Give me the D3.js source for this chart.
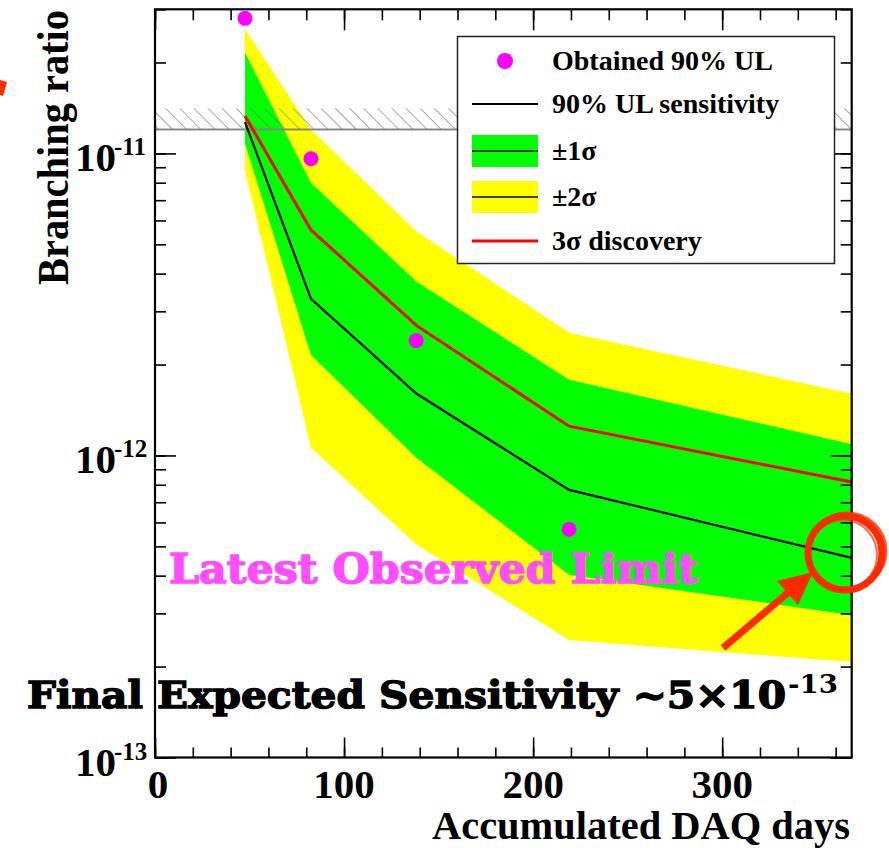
<!DOCTYPE html>
<html>
<head>
<meta charset="utf-8">
<script src="https://cdn.jsdelivr.net/npm/d3@7"></script>
<style>
  body { margin: 0; background: #fff; }
  svg { display: block; }
</style>
</head>
<body>
<div id="vis"></div>
<script>
// accumulated DAQ days where the bands are sampled
var days = [47.6, 82.5, 138.4, 219, 368.5];
var ulSensitivity = [1.27e-11, 3.30e-12, 1.60e-12, 7.69e-13, 4.58e-13];
var discovery3s = [1.33e-11, 5.58e-12, 2.69e-12, 1.25e-12, 8.17e-13];
var sigma1Hi = [2.16e-11, 7.98e-12, 3.76e-12, 1.78e-12, 1.09e-12];
var sigma1Lo = [1.08e-11, 2.15e-12, 9.8e-13, 4.03e-13, 2.96e-13];
var sigma2Hi = [2.58e-11, 1.2e-11, 5.5e-12, 2.55e-12, 1.6e-12];
var sigma2Lo = [8.8e-12, 1.06e-12, 5.06e-13, 2.45e-13, 2.07e-13];
// obtained limits
var obsDays = [47.6, 82.5, 138.1, 219];
var obsUL = [2.8e-11, 9.6e-12, 2.4e-12, 5.7e-13];
// previous limit (hatched)
var oldLimit = [1.2e-11, 1.41e-11];
var xTicks = [0, 100, 200, 300];
var yDecades = [-11, -12, -13];
var legendLabels = ["Obtained 90% UL", "90% UL sensitivity", "\u00b11\u03c3", "\u00b12\u03c3", "3\u03c3 discovery"];

var W = 889, H = 848;
var padL = 155, padR = 851.7, padT = 9.3, padB = 757.5;

var x = d3.scaleLinear().domain([0, 368.5]).range([padL, padR]);
var y = d3.scaleLog().domain([1e-13, 3e-11]).range([padB, padT]);

var svg = d3.select("#vis").append("svg")
  .attr("width", W).attr("height", H);

var defs = svg.append("defs");
var pat = defs.append("pattern")
  .attr("id", "hatch")
  .attr("patternUnits", "userSpaceOnUse")
  .attr("width", 10).attr("height", 10)
  .attr("patternTransform", "rotate(-45)");
pat.append("line")
  .attr("x1", 0).attr("y1", 0).attr("x2", 0).attr("y2", 10)
  .attr("stroke", "#7a7a7a").attr("stroke-width", 1.3);

defs.append("clipPath").attr("id", "plotclip")
  .append("rect").attr("x", padL).attr("y", padT)
  .attr("width", padR - padL).attr("height", padB - padT);

var plot = svg.append("g").attr("clip-path", "url(#plotclip)");

function band(lo, hi) {
  return d3.area()
    .x(function(d, i) { return x(days[i]); })
    .y0(function(d, i) { return y(lo[i]); })
    .y1(function(d, i) { return y(hi[i]); })(days);
}
var line = function(vals) {
  return d3.line()
    .x(function(d, i) { return x(days[i]); })
    .y(function(d) { return y(d); })(vals);
};

plot.append("path").attr("d", band(sigma2Lo, sigma2Hi)).attr("fill", "#ffff00");
plot.append("path").attr("d", band(sigma1Lo, sigma1Hi)).attr("fill", "#00ff00");

// hatched previous limit
plot.append("rect")
  .attr("x", padL).attr("width", padR - padL)
  .attr("y", y(oldLimit[1])).attr("height", y(oldLimit[0]) - y(oldLimit[1]))
  .attr("fill", "url(#hatch)");
plot.append("line")
  .attr("x1", padL).attr("x2", padR)
  .attr("y1", y(oldLimit[0])).attr("y2", y(oldLimit[0]))
  .attr("stroke", "#888").attr("stroke-width", 2);

plot.append("path").attr("d", line(ulSensitivity))
  .attr("fill", "none").attr("stroke", "#000").attr("stroke-width", 2.2);
plot.append("path").attr("d", line(discovery3s))
  .attr("fill", "none").attr("stroke", "#ff0000").attr("stroke-width", 3);

svg.selectAll(".obs").data(obsUL).enter().append("circle")
  .attr("class", "obs")
  .attr("cx", function(d, i) { return x(obsDays[i]); })
  .attr("cy", function(d) { return y(d); })
  .attr("r", 7.5)
  .attr("fill", "#ff00ff");

// axes: ticks pointing inward, on all four sides
var minorY = [];
[-13, -12, -11].forEach(function(e) {
  for (var k = 1; k < 10; k++) {
    var v = k * Math.pow(10, e);
    if (v >= 1e-13 && v <= 3e-11) minorY.push(v);
  }
});
var minorX = d3.range(0, 368, 20);

function drawAxis(axis, tr) {
  var g = svg.append("g").attr("transform", tr).call(axis);
  g.selectAll("text").remove();
  g.selectAll(".domain").remove();
  g.selectAll("line").attr("stroke", "#000").attr("stroke-width", 1.6);
  return g;
}
drawAxis(d3.axisLeft(y).tickValues(minorY).tickSize(-11), "translate(" + padL + ",0)");
drawAxis(d3.axisLeft(y).tickValues([1e-11, 1e-12, 1e-13]).tickSize(-21), "translate(" + padL + ",0)");
drawAxis(d3.axisRight(y).tickValues(minorY).tickSize(-11), "translate(" + padR + ",0)");
drawAxis(d3.axisRight(y).tickValues([1e-11, 1e-12, 1e-13]).tickSize(-21), "translate(" + padR + ",0)");
drawAxis(d3.axisBottom(x).tickValues(minorX).tickSize(-10), "translate(0," + padB + ")");
drawAxis(d3.axisBottom(x).tickValues(xTicks).tickSize(-20), "translate(0," + padB + ")");
drawAxis(d3.axisTop(x).tickValues(minorX).tickSize(-11), "translate(0," + padT + ")");
drawAxis(d3.axisTop(x).tickValues(xTicks).tickSize(-21), "translate(0," + padT + ")");

svg.append("rect")
  .attr("x", padL).attr("y", padT)
  .attr("width", padR - padL).attr("height", padB - padT)
  .attr("fill", "none").attr("stroke", "#000").attr("stroke-width", 2.2);

var serif = "'Liberation Serif', 'Times New Roman', serif";

// y tick labels 10^n
yDecades.forEach(function(e) {
  var ty = y(Math.pow(10, e));
  svg.append("text")
    .attr("x", 116).attr("y", ty + 18)
    .attr("text-anchor", "end")
    .attr("font-family", serif).attr("font-weight", "bold").attr("font-size", 41)
    .text("10");
  svg.append("text")
    .attr("x", 114).attr("y", ty + 2)
    .attr("font-family", serif).attr("font-weight", "bold").attr("font-size", 25)
    .text(String(e));
});

svg.selectAll(".xlab").data(xTicks).enter().append("text")
  .attr("class", "xlab")
  .attr("x", function(d) { return x(d) + (d === 0 ? 3 : 0); })
  .attr("y", 798)
  .attr("text-anchor", "middle")
  .attr("font-family", serif).attr("font-weight", "bold").attr("font-size", 41)
  .text(function(d) { return d; });

svg.append("text")
  .attr("x", 850).attr("y", 839)
  .attr("text-anchor", "end")
  .attr("font-family", serif).attr("font-weight", "bold").attr("font-size", 41)
  .attr("textLength", 418).attr("lengthAdjust", "spacingAndGlyphs")
  .text("Accumulated DAQ days");

svg.append("text")
  .attr("transform", "translate(68,10) rotate(-90)")
  .attr("text-anchor", "end")
  .attr("font-family", serif).attr("font-weight", "bold").attr("font-size", 44)
  .attr("textLength", 275).attr("lengthAdjust", "spacingAndGlyphs")
  .text("Branching ratio");

// legend
var lg = svg.append("g");
lg.append("rect")
  .attr("x", 457.5).attr("y", 36.5).attr("width", 377).attr("height", 227)
  .attr("fill", "#fff").attr("stroke", "#222").attr("stroke-width", 1.5);
var rows = [61, 104, 151, 197, 241];
lg.append("circle").attr("cx", 505).attr("cy", rows[0]).attr("r", 8).attr("fill", "#ff00ff");
lg.append("line").attr("x1", 472).attr("x2", 538).attr("y1", rows[1]).attr("y2", rows[1])
  .attr("stroke", "#000").attr("stroke-width", 2.2);
[["#00ff00", rows[2]], ["#ffff00", rows[3]]].forEach(function(s) {
  lg.append("rect").attr("x", 472).attr("y", s[1] - 16).attr("width", 66).attr("height", 32).attr("fill", s[0]);
  lg.append("line").attr("x1", 472).attr("x2", 538).attr("y1", s[1]).attr("y2", s[1])
    .attr("stroke", "#000").attr("stroke-width", 1.5);
});
lg.append("line").attr("x1", 472).attr("x2", 538).attr("y1", rows[4]).attr("y2", rows[4])
  .attr("stroke", "#ff0000").attr("stroke-width", 3);
lg.selectAll(".ltxt").data(legendLabels).enter().append("text")
  .attr("class", "ltxt")
  .attr("x", 552).attr("y", function(d, i) { return rows[i] + 9; })
  .attr("font-family", serif).attr("font-weight", "bold").attr("font-size", 28)
  .text(function(d) { return d; });

// annotations
var slab = "'DejaVu Serif', serif";
svg.append("text")
  .attr("x", 169).attr("y", 583)
  .attr("font-family", slab).attr("font-weight", "bold").attr("font-size", 41)
  .attr("fill", "#ff4dff").attr("stroke", "#ff4dff").attr("stroke-width", 1.4)
  .attr("textLength", 529).attr("lengthAdjust", "spacingAndGlyphs")
  .text("Latest Observed Limit");

svg.append("text")
  .attr("x", 27).attr("y", 708)
  .attr("font-family", slab).attr("font-weight", "bold").attr("font-size", 38)
  .attr("fill", "#000").attr("stroke", "#000").attr("stroke-width", 1.4)
  .attr("textLength", 759).attr("lengthAdjust", "spacingAndGlyphs")
  .text("Final Expected Sensitivity ~5\u00d710");
svg.append("text")
  .attr("x", 788).attr("y", 693)
  .attr("font-family", slab).attr("font-weight", "bold").attr("font-size", 26)
  .attr("fill", "#000")
  .attr("textLength", 50).attr("lengthAdjust", "spacingAndGlyphs")
  .text("-13");

// red arrow and hand-drawn circle
var red = "#ff2a00";
svg.append("line")
  .attr("x1", 723).attr("y1", 648).attr("x2", 790).attr("y2", 591)
  .attr("stroke", red).attr("stroke-width", 7);
svg.append("path")
  .attr("d", "M813,572 L777,581 L798,605 Z")
  .attr("fill", red);
var ring = svg.append("g").attr("fill", "none").attr("stroke", red);
ring.append("ellipse").attr("cx", 845).attr("cy", 553).attr("rx", 37).attr("ry", 37).attr("stroke-width", 7);
ring.append("ellipse").attr("cx", 847).attr("cy", 551).attr("rx", 39).attr("ry", 38).attr("stroke-width", 3)
  .attr("stroke-opacity", 0.8);
ring.append("ellipse").attr("cx", 843).attr("cy", 555).attr("rx", 34).attr("ry", 35).attr("stroke-width", 2)
  .attr("stroke-opacity", 0.7);
svg.append("path").attr("d", "M0,80 L7,82 L3,96 L0,95 Z").attr("fill", red);
</script>
</body>
</html>
